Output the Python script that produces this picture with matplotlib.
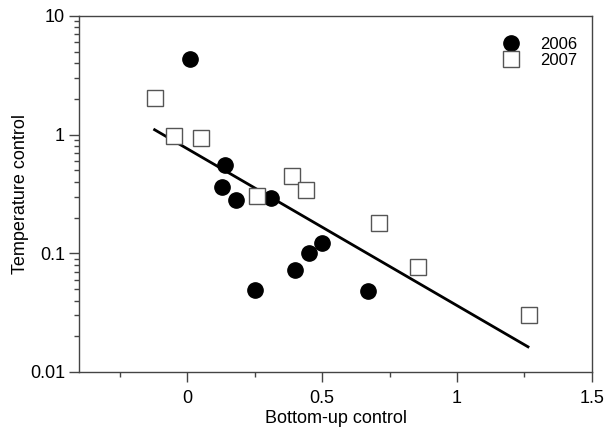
import matplotlib
matplotlib.use("Agg")
import matplotlib.pyplot as plt
from matplotlib.ticker import FixedLocator, NullFormatter

plt.rcParams['font.family'] = ['Liberation Sans', 'DejaVu Sans']

x2006 = [0.01, 0.14, 0.13, 0.18, 0.31, 0.25, 0.40, 0.45, 0.50, 0.67]
y2006 = [4.3, 0.56, 0.365, 0.283, 0.29, 0.049, 0.072, 0.10, 0.123, 0.0486]

x2007 = [-0.12, -0.05, 0.05, 0.26, 0.39, 0.44, 0.71, 0.857, 1.267]
y2007 = [2.04, 0.98, 0.93, 0.306, 0.445, 0.344, 0.18, 0.076, 0.030]

fit_x = [-0.12, 1.263]
fit_y = [1.10, 0.0163]

xticks = [0, 0.5, 1, 1.5]
xtick_labels = ['0', '0.5', '1', '1.5']
yticks = [0.01, 0.1, 1, 10]
ytick_labels = ['0.01', '0.1', '1', '10']

fig = plt.figure(figsize=(6.05, 4.32), dpi=100)
ax = fig.add_axes([0.1306, 0.1389, 0.8479, 0.8241])

ax.plot(fit_x, fit_y, color='black', lw=2.0, zorder=2)
ax.plot(x2006, y2006, 'o', color='black', markersize=11, linestyle='none', label='2006', zorder=3)
ax.plot(x2007, y2007, 's', markerfacecolor='white', markeredgecolor='#555555', markeredgewidth=1.0,
        markersize=11, linestyle='none', label='2007', zorder=3)

ax.set_yscale('log')
ax.set_xlim(-0.4, 1.5)
ax.set_ylim(0.01, 10)
ax.set_xticks(xticks)
ax.set_xticklabels(xtick_labels)
ax.xaxis.set_minor_locator(FixedLocator([-0.25, 0.25, 0.75, 1.25]))
ax.set_yticks(yticks)
ax.set_yticklabels(ytick_labels)
ax.yaxis.set_minor_formatter(NullFormatter())

for s in ax.spines.values():
    s.set_color('#444444')
    s.set_linewidth(1.0)
ax.tick_params(which='major', direction='out', length=7, width=1, color='#444444', labelsize=13)
ax.tick_params(axis='x', which='major', pad=6)
ax.tick_params(axis='y', which='major', pad=3)
ax.tick_params(which='minor', direction='out', length=3.5, width=1, color='#444444')

ax.set_xlabel('Bottom-up control', fontsize=13, labelpad=2)
ax.set_ylabel('Temperature control', fontsize=13, labelpad=1)

ax.legend(loc='upper right', frameon=False, fontsize=12, handletextpad=0.8,
          borderaxespad=0.0, labelspacing=0.05, bbox_to_anchor=(0.985, 0.96))

fig.savefig('out.png', dpi=100)
